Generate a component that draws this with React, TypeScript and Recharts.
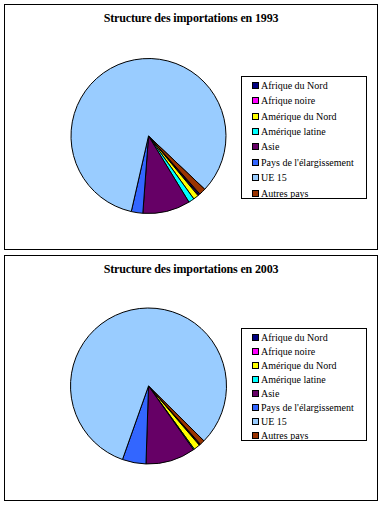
import React from "react";
import { PieChart, Pie, Cell, Legend } from "recharts";

const categories = [
  "Afrique du Nord",
  "Afrique noire",
  "Amérique du Nord",
  "Amérique latine",
  "Asie",
  "Pays de l'élargissement",
  "UE 15",
  "Autres pays",
];
const values1993 = [0.3, 0.2, 1.1, 1.2, 9.9, 2.4, 83.5, 1.4];
const values2003 = [0.2, 0.1, 1.3, 0.2, 10.3, 4.9, 82.0, 1.0];
const colors = ["#000080", "#ff00ff", "#ffff00", "#00ffff", "#660066", "#3366ff", "#99ccff", "#993300"];

const serif = '"Liberation Serif", "Times New Roman", serif';

interface BoxProps {
  title: string;
  values: number[];
  top: number;
  cy: number;
  radius: number;
  startAngle: number;
  legendTop: number;
  legendHeight: number;
  rowHeight: number;
}

function renderLegend(rowHeight: number) {
  return (props: any) => {
    // keep the series order, recharts sorts the legend by name otherwise
    const items = [...(props.payload || [])].sort(
      (a: any, b: any) => categories.indexOf(a.value) - categories.indexOf(b.value)
    );
    return (
      <div
        style={{
          boxSizing: "border-box",
          width: "100%",
          height: "100%",
          border: "1px solid #000",
          background: "#fff",
          paddingTop: 1,
          fontFamily: serif,
          fontSize: 10,
          color: "#000",
        }}
      >
        {items.map((it: any) => (
          <div
            key={it.value}
            style={{ height: rowHeight, display: "flex", alignItems: "center", paddingLeft: 10, whiteSpace: "nowrap" }}
          >
            <span
              style={{
                display: "inline-block",
                width: 5,
                height: 5,
                border: "1px solid #000",
                background: it.color,
                marginRight: 2,
              }}
            />
            {it.value}
          </div>
        ))}
      </div>
    );
  };
}

function ChartBox({ title, values, top, cy, radius, startAngle, legendTop, legendHeight, rowHeight }: BoxProps) {
  const data = categories.map((name, i) => ({ name, value: values[i] }));
  return (
    <div
      style={{
        position: "absolute",
        left: 4,
        top,
        width: 374,
        height: 246,
        boxSizing: "border-box",
        border: "1px solid #000",
        background: "#fff",
      }}
    >
      <div
        style={{
          position: "absolute",
          left: 0,
          top: 6,
          width: 372,
          textAlign: "center",
          fontFamily: serif,
          fontWeight: "bold",
          fontSize: 12,
          lineHeight: "14px",
          letterSpacing: -0.15,
          color: "#000",
          zIndex: 2,
        }}
      >
        {title}
      </div>
      <PieChart width={372} height={244} margin={{ top: 0, right: 0, bottom: 0, left: 0 }}>
        <Pie
          data={data}
          dataKey="value"
          nameKey="name"
          cx={143.5}
          cy={cy}
          outerRadius={radius}
          startAngle={startAngle}
          endAngle={startAngle - 360}
          stroke="#000"
          strokeWidth={1}
          isAnimationActive={false}
          label={false}
          labelLine={false}
        >
          {data.map((d, i) => (
            <Cell key={d.name} fill={colors[i]} />
          ))}
        </Pie>
        <Legend
          layout="vertical"
          align="right"
          verticalAlign="top"
          content={renderLegend(rowHeight)}
          wrapperStyle={{ left: 236, top: legendTop, width: 126, height: legendHeight }}
        />
      </PieChart>
    </div>
  );
}

export default function App() {
  return (
    <div style={{ position: "absolute", left: 0, top: 0, width: 385, height: 507, background: "#fff" }}>
      <ChartBox
        title="Structure des importations en 1993"
        values={values1993}
        top={4}
        cy={131}
        radius={77.5}
        startAngle={-48.5}
        legendTop={70.7}
        legendHeight={123}
        rowHeight={15.4}
      />
      <ChartBox
        title="Structure des importations en 2003"
        values={values2003}
        top={255}
        cy={130}
        radius={78}
        startAngle={-48.3}
        legendTop={72}
        legendHeight={113}
        rowHeight={14}
      />
    </div>
  );
}
